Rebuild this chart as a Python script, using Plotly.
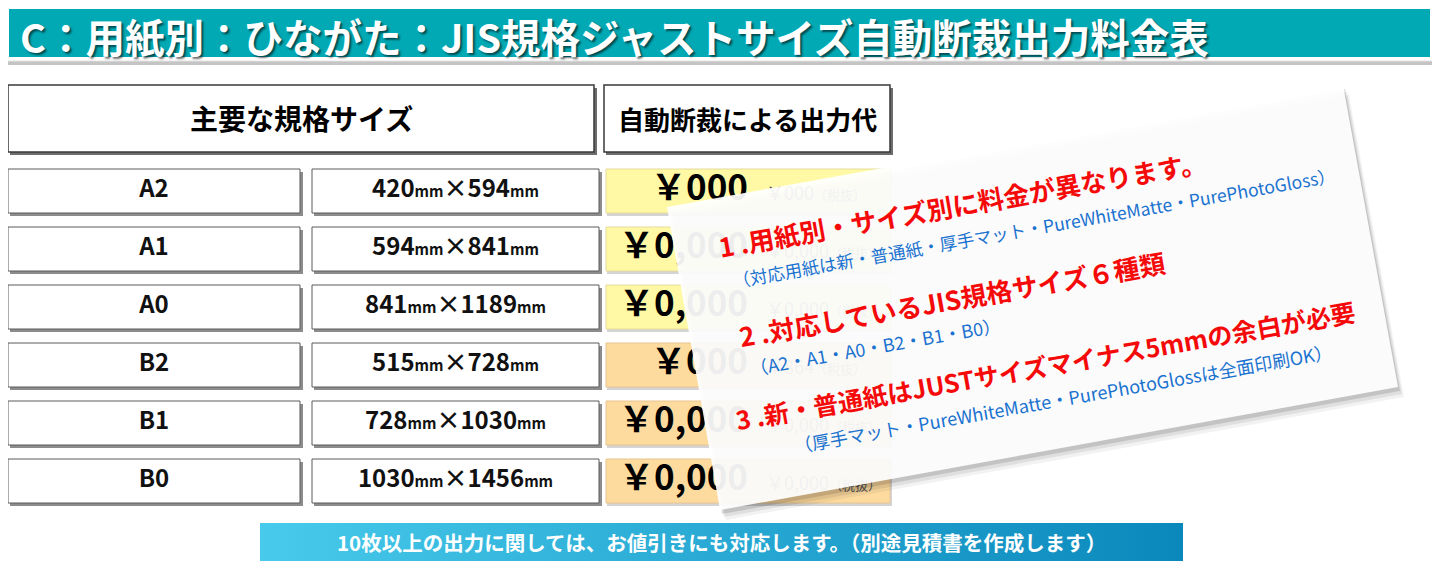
import plotly.graph_objects as go

FONT = "Noto Sans CJK JP"

TITLE = "C：用紙別：ひながた：JIS規格ジャストサイズ自動断裁出力料金表"
HEADERS = ["主要な規格サイズ", "自動断裁による出力代"]

SIZES = ["A2", "A1", "A0", "B2", "B1", "B0"]
WIDTH_MM = [420, 594, 841, 515, 728, 1030]
HEIGHT_MM = [594, 841, 1189, 728, 1030, 1456]
PRICES = ["￥000", "￥0,000", "￥0,000", "￥000", "￥0,000", "￥0,000"]
NOTE_PRICES = ["￥000", "￥0,000", "￥0,000", "￥864", "￥0,000", "￥0,000"]
SERIES = ["A", "A", "A", "B", "B", "B"]

CARD_POINTS = [
    "1 .用紙別・サイズ別に料金が異なります。",
    "2 .対応しているJIS規格サイズ６種類",
    "3 .新・普通紙はJUSTサイズマイナス5mmの余白が必要",
]
CARD_NOTES = [
    "（対応用紙は新・普通紙・厚手マット・PureWhiteMatte・PurePhotoGloss）",
    "（A2・A1・A0・B2・B1・B0）",
    "（厚手マット・PureWhiteMatte・PurePhotoGlossは全面印刷OK）",
]
FOOTER = "10枚以上の出力に関しては、お値引きにも対応します。（別途見積書を作成します）"

# --- layout constants (page pixels, y grows downward) ---
# the html body keeps an 8px margin, so the figure starts at page (8, 8)
PAGE_W, PAGE_H, BODY = 1440, 570, 8
TEAL = "#00A9B4"
CELL_COLORS = {"A": "#FFF9A6", "B": "#FDDB9F"}
CELL_LINES = {"A": "#E4DC9A", "B": "#E6C48E"}
ROW_TOP, ROW_PITCH, ROW_H = 169, 58, 44
COL1 = (8, 300)
COL2 = (312, 599)
COL3 = (606, 890)
CARD_CORNERS = [(667, 207), (1343, 85), (1398, 387), (720, 510)]
CARD_ANGLE = -10
POINT_POS = [(962, 203), (952, 298), (1045, 365)]
NOTE_POS = [(1034, 227), (875, 346), (1063, 398)]

shapes = []


def rect(x0, y0, x1, y1, fill, line=None, lw=0, layer="below"):
    shapes.append(dict(
        type="rect", xref="x", yref="y", x0=x0, y0=y0, x1=x1, y1=y1,
        fillcolor=fill, line=dict(color=line or fill, width=lw), layer=layer,
    ))


def poly(points, fill, dx=0, dy=0, layer="above"):
    path = "M " + " L ".join(f"{x + dx},{y + dy}" for x, y in points) + " Z"
    shapes.append(dict(
        type="path", xref="x", yref="y", path=path,
        fillcolor=fill, line=dict(width=0), layer=layer,
    ))


def boxed(x0, y0, x1, y1, fill="white", line="#3a3a3a", lw=1.2, shadow="#8c8c8c"):
    rect(x0 + 2, y0 + 3, x1 + 3, y1 + 3, shadow)
    rect(x0, y0, x1, y1, fill, line, lw)


# title bar
rect(6, 7, 1438, 65, "#c4c4c4")
rect(4, 4, 1434, 61, "white", "#e2e2e2", 1)
rect(9, 9, 1430, 57, TEAL)

# header boxes
boxed(8, 85, 594, 152, lw=1.5, shadow="#6e6e6e")
boxed(604, 85, 890, 152, lw=1.5, shadow="#6e6e6e")

row_mid = []
for i, s in enumerate(SERIES):
    top = ROW_TOP + i * ROW_PITCH
    row_mid.append(top + ROW_H / 2)
    boxed(COL1[0], top, COL1[1], top + ROW_H, line="#5a5a5a", lw=1)
    boxed(COL2[0], top, COL2[1], top + ROW_H, line="#5a5a5a", lw=1)
    rect(COL3[0] + 1, top + 2, COL3[1] + 2, top + ROW_H + 3, "#d4d4d4")
    rect(COL3[0], top, COL3[1], top + ROW_H, CELL_COLORS[s], CELL_LINES[s], 1)

# tilted card with soft shadow
poly(CARD_CORNERS, "rgba(0,0,0,0.05)", 6, 10)
poly(CARD_CORNERS, "rgba(0,0,0,0.08)", 4, 7)
poly(CARD_CORNERS, "rgba(0,0,0,0.12)", 2, 4)
poly(CARD_CORNERS, "rgba(255,255,255,0.93)")

fig = go.Figure()

# footer banner with horizontal gradient
fig.add_trace(go.Scatter(
    x=[260, 1183, 1183, 260, 260], y=[523, 523, 561, 561, 523],
    mode="lines", fill="toself", line=dict(width=0),
    fillgradient=dict(type="horizontal",
                      colorscale=[[0, "#47CAEB"], [1, "#0A88BC"]]),
    hoverinfo="skip", showlegend=False,
))

mm = "<span style='font-size:15px'>mm</span>"
dims = [f"{w}{mm}×{h}{mm}" for w, h in zip(WIDTH_MM, HEIGHT_MM)]
notes = [f"{p}<span style='font-size:13px'>（税抜）</span>" for p in NOTE_PRICES]

fig.add_trace(go.Scatter(
    x=[(COL1[0] + COL1[1]) / 2] * len(SIZES), y=row_mid, mode="text", text=SIZES,
    textfont=dict(family=FONT, size=24, color="#111", weight="bold"),
    hoverinfo="skip", showlegend=False,
))
fig.add_trace(go.Scatter(
    x=[(COL2[0] + COL2[1]) / 2] * len(SIZES), y=row_mid, mode="text", text=dims,
    textfont=dict(family=FONT, size=24, color="#111", weight="bold"),
    hoverinfo="skip", showlegend=False,
))
fig.add_trace(go.Scatter(
    x=[748] * len(SIZES), y=row_mid, mode="text", text=PRICES,
    textposition="middle left",
    textfont=dict(family=FONT, size=35, color="black", weight="bold"),
    hoverinfo="skip", showlegend=False,
))
fig.add_trace(go.Scatter(
    x=[766] * len(SIZES), y=[m + 4 for m in row_mid], mode="text", text=notes,
    textposition="middle right",
    textfont=dict(family=FONT, size=18, color="#555"),
    hoverinfo="skip", showlegend=False,
))

annotations = [
    dict(x=18, y=35, text=TITLE, xanchor="left", yanchor="middle", showarrow=False,
         font=dict(family=FONT, size=39.5, color="white", weight="bold",
                   shadow="2px 2px 2px rgba(0,0,0,0.55)")),
    dict(x=301, y=118, text=HEADERS[0], showarrow=False,
         font=dict(family=FONT, size=28, color="black", weight="bold")),
    dict(x=747, y=118, text=HEADERS[1], showarrow=False,
         font=dict(family=FONT, size=26, color="black", weight="bold")),
    dict(x=721, y=542, text=FOOTER, showarrow=False,
         font=dict(family=FONT, size=20.5, color="white", weight="bold")),
]
for txt, (cx, cy), size in zip(CARD_POINTS, POINT_POS, [26, 26, 25]):
    annotations.append(dict(x=cx, y=cy, text=txt, textangle=CARD_ANGLE, showarrow=False,
                            font=dict(family=FONT, size=size, color="#F50A0A", weight="bold")))
for txt, (cx, cy), size in zip(CARD_NOTES, NOTE_POS, [17.5, 18, 18]):
    annotations.append(dict(x=cx, y=cy, text=txt, textangle=CARD_ANGLE, showarrow=False,
                            font=dict(family=FONT, size=size, color="#1A72D0")))

fig.update_layout(
    width=PAGE_W - BODY, height=PAGE_H - BODY,
    margin=dict(l=0, r=0, t=0, b=0),
    paper_bgcolor="white", plot_bgcolor="white",
    xaxis=dict(range=[BODY, PAGE_W], visible=False, fixedrange=True),
    yaxis=dict(range=[PAGE_H, BODY], visible=False, fixedrange=True),
    shapes=shapes,
    annotations=annotations,
    showlegend=False,
)
fig.write_html("out.html")
